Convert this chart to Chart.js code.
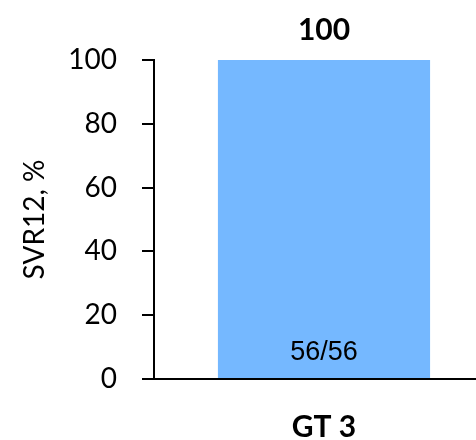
<!DOCTYPE html>
<html>
<head>
<meta charset="utf-8">
<script src="https://cdn.jsdelivr.net/npm/chart.js@4.4.1/dist/chart.umd.min.js"></script>
<style>
  html, body { margin: 0; padding: 0; background: #fff; overflow: hidden; }
  #wrap { width: 494px; height: 440px; }
</style>
</head>
<body>
<div id="wrap"><canvas id="c"></canvas></div>
<script>
// values
var categories = ['GT 3'];
var svr12 = [100];
var fractions = ['56/56'];
var yTicks = [0, 20, 40, 60, 80, 100];

var barColor = '#75b8ff';

// value on top of the bar, n/N inside near the base
var barLabels = {
    id: 'barLabels',
    afterDatasetsDraw: function (chart) {
        var ctx = chart.ctx;
        var meta = chart.getDatasetMeta(0);
        var base = chart.scales.y.getPixelForValue(0);
        ctx.save();
        ctx.fillStyle = '#000';
        ctx.textAlign = 'center';
        meta.data.forEach(function (bar, i) {
            ctx.textBaseline = 'middle';
            ctx.font = 'bold 30px Lato, "Open Sans", sans-serif';
            ctx.fillText(String(svr12[i]), bar.x, bar.y - 30);
            ctx.font = '27px "Liberation Sans", Arial, sans-serif';
            ctx.fillText(fractions[i], bar.x, base - 26);
        });
        ctx.restore();
    }
};

new Chart(document.getElementById('c'), {
    type: 'bar',
    data: {
        labels: categories,
        datasets: [{ data: svr12, backgroundColor: barColor, borderWidth: 0,
            categoryPercentage: 1, barPercentage: 0.624 }]
    },
    options: {
        responsive: true, maintainAspectRatio: false, animation: false,
        layout: { padding: { top: 60, right: 0, left: 0, bottom: 0 } },
        plugins: { legend: { display: false }, tooltip: { enabled: false } },
        scales: {
            x: {
                afterFit: function (s) { s.height = 61; },
                grid: { display: true, drawOnChartArea: false, drawTicks: false },
                border: { display: true, color: '#000', width: 2 },
                ticks: { color: '#000', padding: 30, font: { family: 'Lato, "Open Sans", sans-serif', size: 30, weight: 'bold' } }
            },
            y: {
                min: 0, max: 100,
                afterBuildTicks: function (s) { s.ticks = yTicks.map(function (v) { return { value: v }; }); },
                afterFit: function (s) { s.width = 154; },
                grid: { drawOnChartArea: false, drawTicks: true, tickLength: 12, color: '#000', lineWidth: 2 },
                border: { display: true, color: '#000', width: 2 },
                ticks: { color: '#000', padding: 25, font: { family: 'Lato, "Open Sans", sans-serif', size: 28 } },
                title: { display: true, text: 'SVR12, %', color: '#000', padding: { top: 18, bottom: 0 },
                    font: { family: 'Lato, "Open Sans", sans-serif', size: 28 } }
            }
        }
    },
    plugins: [barLabels]
});
</script>
</body>
</html>
